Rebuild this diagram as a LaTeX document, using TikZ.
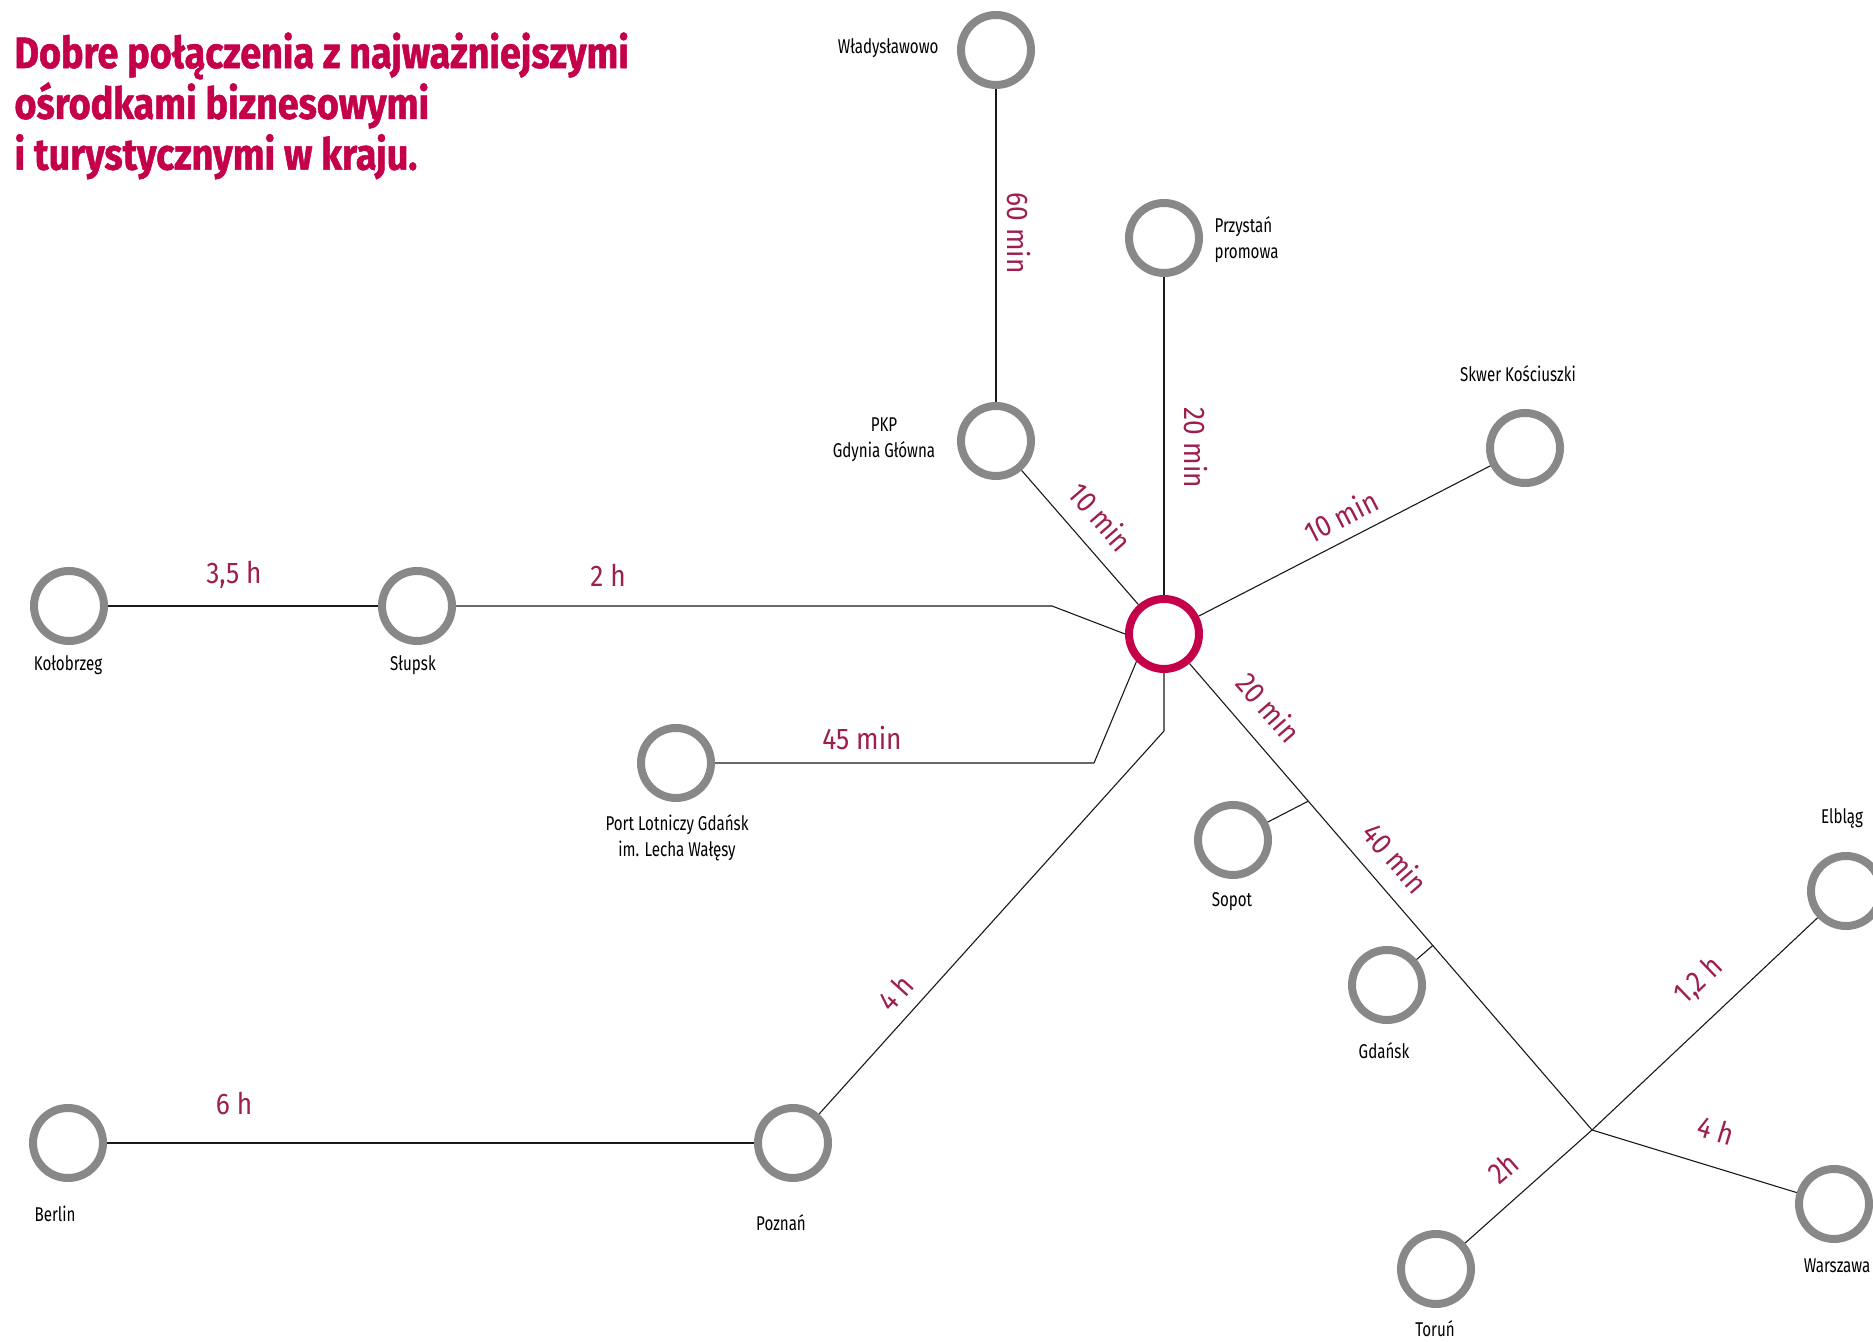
\documentclass[tikz,border=0pt]{standalone}
\usepackage{fontspec}
\setmainfont{Fira Sans}
\newfontfamily\condfont[FakeStretch=0.76]{Fira Sans}
\newfontfamily\timefont[FakeStretch=0.88]{Fira Sans}
\newfontfamily\titlefont[FakeStretch=0.86,FakeBold=1.2]{Fira Sans}
\usepackage{tikz}
\usetikzlibrary{calc}
\definecolor{crimson}{RGB}{197,0,75}
\definecolor{wine}{RGB}{158,30,80}
\definecolor{ringgray}{RGB}{136,136,136}

\tikzset{
  city/.style={circle,draw=ringgray,line width=8bp,minimum size=70bp,inner sep=0pt},
  hubring/.style={city,draw=crimson},
  citylabel/.style={font=\condfont\fontsize{20}{26}\selectfont,text=black,inner sep=0pt},
  timelabel/.style={font=\timefont\fontsize{30}{36}\selectfont,text=wine,inner sep=0pt},
  link/.style={draw=black!90,line width=1.1bp},
}

\begin{document}
\begin{tikzpicture}[line join=bevel]
  \pgfsetlinewidth{1bp}
  \useasboundingbox (0bp,0bp) rectangle (1873bp,1342bp);
  \clip (0bp,0bp) rectangle (1873bp,1342bp);
%%
  % Title
  \node[anchor=north west,inner sep=0pt,align=left,text=crimson,
        font=\titlefont\bfseries\fontsize{44}{51}\selectfont] (title) at (14bp,1310bp)
        {Dobre połączenia z najważniejszymi\\ośrodkami biznesowymi\\i turystycznymi w kraju.};
  % Node: Gdynia (hub)
  \node[hubring] (hub) at (1164bp,708bp) {};
  % Node: Władysławowo
  \node[city] (wlad) at (996bp,1292bp) {};
  \node[citylabel,anchor=east] (lwlad) at (939bp,1294bp) {Władysławowo};
  % Node: Przystań promowa
  \node[city] (przystan) at (1164bp,1104bp) {};
  \node[citylabel,anchor=west,align=left] (lprzystan) at (1214bp,1102bp) {Przystań\\promowa};
  % Node: PKP Gdynia Główna
  \node[city] (pkp) at (996bp,901bp) {};
  \node[citylabel,align=center] (lpkp) at (884bp,902bp) {PKP\\Gdynia Główna};
  % Node: Skwer Kościuszki
  \node[city] (skwer) at (1525bp,894bp) {};
  \node[citylabel] (lskwer) at (1518bp,968bp) {Skwer Kościuszki};
  % Node: Kołobrzeg
  \node[city] (kolobrzeg) at (69bp,736bp) {};
  \node[citylabel] (lkolobrzeg) at (68bp,677bp) {Kołobrzeg};
  % Node: Słupsk
  \node[city] (slupsk) at (417bp,736bp) {};
  \node[citylabel] (lslupsk) at (413bp,677bp) {Słupsk};
  % Node: Port Lotniczy
  \node[city] (port) at (676bp,579bp) {};
  \node[citylabel,align=center] (lport) at (677bp,504bp) {Port Lotniczy Gdańsk\\im. Lecha Wałęsy};
  % Node: Sopot
  \node[city] (sopot) at (1233bp,502bp) {};
  \node[citylabel] (lsopot) at (1232bp,440bp) {Sopot};
  % Node: Gdańsk
  \node[city] (gdansk) at (1387bp,357bp) {};
  \node[citylabel] (lgdansk) at (1384bp,291bp) {Gdańsk};
  % Node: Elbląg
  \node[city] (elblag) at (1846bp,451bp) {};
  \node[citylabel] (lelblag) at (1842bp,524bp) {Elbląg};
  % Node: Warszawa
  \node[city] (warszawa) at (1834bp,138bp) {};
  \node[citylabel] (lwarszawa) at (1837bp,76bp) {Warszawa};
  % Node: Toruń
  \node[city] (torun) at (1436bp,73bp) {};
  \node[citylabel] (ltorun) at (1435bp,13bp) {Toruń};
  % Node: Berlin
  \node[city] (berlin) at (68bp,199bp) {};
  \node[citylabel] (lberlin) at (55bp,128bp) {Berlin};
  % Node: Poznań
  \node[city] (poznan) at (793bp,199bp) {};
  \node[citylabel] (lpoznan) at (781bp,119bp) {Poznań};
  % bends and junction
  \coordinate (slupskbend) at (1052bp,736bp);
  \coordinate (portbend) at (1094bp,579bp);
  \coordinate (poznanbend) at (1164bp,611bp);
  \coordinate (split) at (1592bp,212bp);
  \coordinate (sopotfork) at ($(hub)!0.337!(split)$);
  \coordinate (gdanskfork) at ($(hub)!0.628!(split)$);
  % Edge: Władysławowo -> PKP
  \draw[link] (wlad) -- (pkp);
  \node[timelabel,rotate=-90] (t60) at (1019bp,1109bp) {60 min};
  % Edge: Przystań -> hub
  \draw[link] (przystan) -- (hub);
  \node[timelabel,rotate=-90] (t20a) at (1196bp,894bp) {20 min};
  % Edge: PKP -> hub
  \draw[link] (pkp) -- (hub);
  \node[timelabel,rotate=-49] (t10a) at (1101bp,825bp) {10 min};
  % Edge: Skwer -> hub
  \draw[link] (skwer) -- (hub);
  \node[timelabel,rotate=27] (t10b) at (1341bp,826bp) {10 min};
  % Edge: Kołobrzeg -> Słupsk
  \draw[link] (kolobrzeg) -- (slupsk);
  \node[timelabel] (t35) at (234bp,767bp) {3,5 h};
  % Edge: Słupsk -> hub
  \draw[link] (slupsk) -- (slupskbend) -- (hub.west);
  \node[timelabel] (t2) at (608bp,767bp) {2 h};
  % Edge: Port Lotniczy -> hub
  \draw[link] (port) -- (portbend) -- (hub.-135);
  \node[timelabel] (t45) at (862bp,604bp) {45 min};
  % Edge: Poznań -> hub
  \draw[link] (poznan) -- (poznanbend) -- (hub.south);
  \node[timelabel,rotate=48] (t4a) at (895bp,349bp) {4 h};
  % Edge: Berlin -> Poznań
  \draw[link] (berlin) -- (poznan);
  \node[timelabel] (t6) at (234bp,238bp) {6 h};
  % Edge: hub -> split (Sopot, Gdańsk)
  \draw[link] (hub) -- (split);
  \draw[link] (sopotfork) -- (sopot);
  \draw[link] (gdanskfork) -- (gdansk);
  \node[timelabel,rotate=-49] (t20b) at (1269bp,635bp) {20 min};
  \node[timelabel,rotate=-49] (t40) at (1396bp,484bp) {40 min};
  % Edge: split -> Elbląg
  \draw[link] (split) -- (elblag);
  \node[timelabel,rotate=44] (t12) at (1699bp,361bp) {1,2 h};
  % Edge: split -> Warszawa
  \draw[link] (split) -- (warszawa);
  \node[timelabel,rotate=-17] (t4b) at (1716bp,212bp) {4 h};
  % Edge: split -> Toruń
  \draw[link] (split) -- (torun);
  \node[timelabel,rotate=41] (t2h) at (1503bp,174bp) {2h};
%
\end{tikzpicture}
\end{document}
